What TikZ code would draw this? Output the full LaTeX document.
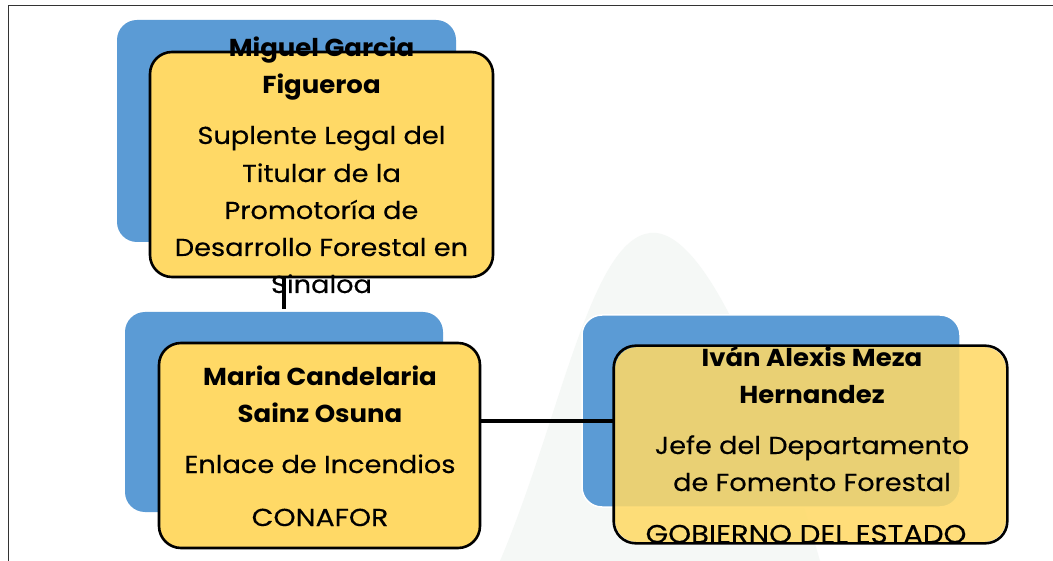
\documentclass[tikz,border=0pt]{standalone}
\usepackage{fontspec}
\setmainfont{Poppins}[FakeStretch=1.11, UprightFeatures={FakeBold=0.35}, BoldFeatures={FakeStretch=1.06}]
\begin{document}
\begin{tikzpicture}[x=1pt,y=-1pt,
  bluebox/.style={fill=boxblue, rounded corners=20pt, inner sep=0pt, draw=none},
  yelbox/.style={fill=boxyellow, draw=black, line width=2.6pt, rounded corners=22pt, inner sep=0pt},
  conn/.style={draw=black, line width=3.2pt},
  nm/.style={font=\bfseries\fontsize{24.5}{30}\selectfont, anchor=base, inner sep=0pt},
  tl/.style={font=\fontsize{24.5}{30}\selectfont, anchor=base, inner sep=0pt},
  frame/.style={draw=framegray, line width=1pt}]
\definecolor{boxblue}{HTML}{5B9BD5}
\definecolor{boxyellow}{HTML}{FFD966}
\definecolor{framegray}{HTML}{333333}
\definecolor{wmark}{HTML}{F5F8F6}
\useasboundingbox (0,0) rectangle (1053,561);
\fill[white] (0,0) rectangle (1053,561);
% watermark
\fill[wmark] (500,561) .. controls (560,420) and (590,240) .. (650,233) .. controls (710,226) and (780,420) .. (820,561) -- cycle;
% frame
\draw[frame] (8,561) -- (8,6) -- (1053,6);
% blue boxes
\node[bluebox, minimum width=339pt, minimum height=222pt] (b1) at (286.5,131) {};
\node[bluebox, minimum width=318pt, minimum height=200pt] (b2) at (284,412) {};
\node[bluebox, draw=white, line width=1.5pt, minimum width=378pt, minimum height=192pt] (b3) at (771,411) {};
% connectors
\coordinate (h) at (0,421);
\draw[conn] (b2.north |- b1.south) -- ([yshift=3pt]b2.north);
% yellow boxes
\node[yelbox, minimum width=343pt, minimum height=225pt] (y1) at (321.5,164.5) {};
\node[yelbox, minimum width=321pt, minimum height=205pt] (y2) at (319.5,445.5) {};
\node[yelbox, draw=none, fill opacity=0.87, minimum width=391pt, minimum height=195pt] (y3) at (810.5,444.5) {};
\draw[conn] (y2.east |- h) -- (y3.west |- h);
% texts box 1
\node[nm] (t1a) at (321.5,57) {Miguel Garcia};
\node[nm] (t1b) at (321.5,94) {Figueroa};
\node[tl] (t1c) at (321.5,144) {Suplente Legal del};
\node[tl] (t1d) at (321.5,182) {Titular de la};
\node[tl] (t1e) at (321.5,219) {Promotoría de};
\node[tl] (t1f) at (321.5,256) {Desarrollo Forestal en};
\node[tl] (t1g) at (321.5,293) {Sinaloa};
% texts box 2
\node[nm] (t2a) at (320,386) {Maria Candelaria};
\node[nm] (t2b) at (320,423) {Sainz Osuna};
\node[tl] (t2c) at (320,473) {Enlace de Incendios};
\node[tl] (t2d) at (320,526) {\scalebox{1.04}[1]{CONAFOR}};
% texts box 3 (clipped)
\begin{scope}
\clip[rounded corners=22pt] (y3.north west) rectangle (y3.south east);
\node[nm] (t3a) at (812,367) {Iván Alexis Meza};
\node[nm] (t3b) at (812,404) {Hernandez};
\node[tl] (t3c) at (812,454) {Jefe del Departamento};
\node[tl] (t3d) at (812,491) {de Fomento Forestal};
\node[tl] (t3e) at (806,543) {\scalebox{1.07}[1.05]{GOBIERNO DEL ESTADO}};
\end{scope}
\draw[black, line width=2.6pt, rounded corners=22pt] (y3.north west) rectangle (y3.south east);
\end{tikzpicture}
\end{document}
